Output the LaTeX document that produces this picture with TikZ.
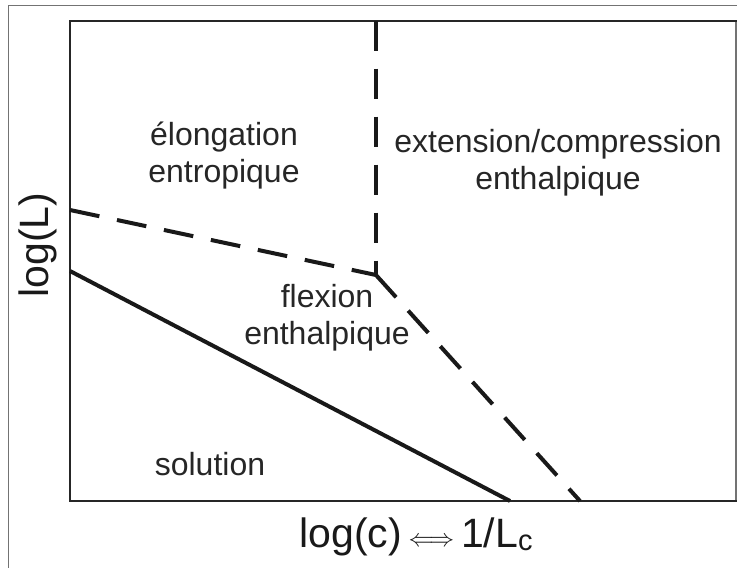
\documentclass[tikz,border=0pt]{standalone}
\usepackage{fontspec}
\setmainfont{Liberation Sans}
\begin{document}
\begin{tikzpicture}[x=1pt,y=-1pt,
  frameline/.style={line width=2pt,black!85},
  grayline/.style={line width=1.2pt,black!55},
  bound/.style={line width=4pt,black!90},
  dashbound/.style={line width=4pt,black!90,dash pattern=on 30pt off 18pt},
  region/.style={font=\fontsize{32}{36.5}\selectfont,align=center,anchor=base,inner sep=0pt,text=black!85},
  axislabel/.style={font=\fontsize{41}{46}\selectfont,inner sep=0pt,text=black!90}]
\useasboundingbox (0,0) rectangle (737,568);
% outer frame
\draw[grayline] (8.5,575) -- (8.5,5.5) -- (745,5.5);
% plot frame
\coordinate (pTL) at (70,20.5);
\coordinate (pTR) at (737,20.5);
\coordinate (pBL) at (70,501);
\coordinate (pBR) at (737,501);
\draw[grayline] (736,20.5) -- (736,501);
\draw[frameline] (pTR) -- (pTL) -- (pBL) -- (pBR);
% boundaries
\coordinate (top) at (376,20.5);
\coordinate (jn) at (376,275);
\coordinate (lft) at (70,210);
\coordinate (bot) at (580,501);
\coordinate (sl) at (70,271);
\coordinate (sr) at (510,501);
\draw[dashbound] (top) -- (jn);
\draw[dashbound] (lft) -- (jn);
\draw[dashbound] (jn) -- (bot);
\draw[bound] (sl) -- (sr);
% region labels (base = last line's baseline)
\node[region] (elong) at (224,182) {élongation\\entropique};
\node[region] (ext) at (558,189) {extension/compression\\enthalpique};
\node[region] (flex) at (327,344) {flexion\\enthalpique};
\node[region] (sol) at (210,475) {solution};
% axis labels
\node[axislabel,rotate=90] (ylab) at (38,245) {log(L)};
\node[axislabel,anchor=base] (xlab) at (416,547) {log(c)\,\raisebox{1pt}{\fontsize{37}{37}\selectfont$\Longleftrightarrow$}\,1/L\raisebox{-3pt}{\fontsize{29}{29}\selectfont c}};
\end{tikzpicture}
\end{document}
